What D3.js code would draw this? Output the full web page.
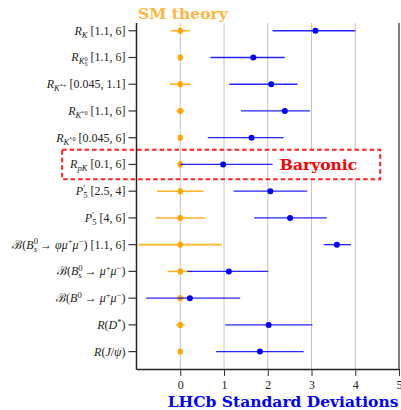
<!DOCTYPE html>
<html>
<head>
<meta charset="utf-8">
<script src="https://cdn.jsdelivr.net/npm/d3@7"></script>
<style>
  body { margin: 0; background: #fff; }
  svg { display: block; }
</style>
</head>
<body>
<div id="chart"></div>
<script>
// measurement labels, top to bottom (simple sub/superscript markup)
const categories = [
    "R_{K} [1.1, 6]",
    "R_{K^{0}_{S}} [1.1, 6]",
    "R_{K^{*+}} [0.045, 1.1]",
    "R_{K^{*0}} [1.1, 6]",
    "R_{K^{*0}} [0.045, 6]",
    "R_{pK} [0.1, 6]",
    "P^{\u2032}_{5} [2.5, 4]",
    "P^{\u2032}_{5} [4, 6]",
    "\u212C(B^{0}_{s} \u2192 \u03C6\u03BC^{+}\u03BC^{\u2212}) [1.1, 6]",
    "\u212C(B^{0}_{s} \u2192 \u03BC^{+}\u03BC^{\u2212})",
    "\u212C(B^{0} \u2192 \u03BC^{+}\u03BC^{\u2212})",
    "R(D^{*})",
    "R(J/\u03C8)"
];

// SM theory: centred on 0 with its uncertainty
const smValues = [0, 0, 0, 0, 0, 0, 0, 0, 0, 0, 0, 0, 0];
const smErr = [0.22, 0.04, 0.24, 0.09, 0.03, 0.03, 0.53, 0.57, 0.95, 0.28, 0.08, 0.1, 0.03];

// LHCb measurement, in standard deviations from SM
const lhcbValues = [3.09, 1.67, 2.08, 2.39, 1.63, 0.98, 2.06, 2.51, 3.58, 1.11, 0.22, 2.02, 1.82];
const lhcbLo = [2.11, 0.69, 1.12, 1.39, 0.63, 0.0, 1.22, 1.69, 3.28, 0.16, -0.78, 1.03, 0.82];
const lhcbHi = [4.0, 2.39, 2.68, 2.97, 2.36, 2.11, 2.9, 3.35, 3.9, 2.01, 1.37, 3.02, 2.82];

const xTicks = [0, 1, 2, 3, 4, 5];
const gridValues = [0, 1, 2, 3, 4];
const baryonicRow = 5;

const width = 401, height = 410;
const margin = {top: 23, right: 2, bottom: 41, left: 136.5};

const svg = d3.select('#chart').append('svg')
    .attr('width', width)
    .attr('height', height);

const x = d3.scaleLinear().domain([-1, 5]).range([margin.left, width - margin.right]);
const y = d3.scaleLinear().domain([-0.29, 12.65]).range([margin.top, height - margin.bottom]);

const serif = '"Liberation Serif", "DejaVu Serif", serif';
const boldSerif = '"DejaVu Serif", "Liberation Serif", serif';
const orange = '#ffa500';
const blue = '#0000ff';

// grid lines
svg.append('g').selectAll('line')
    .data(gridValues)
    .join('line')
    .attr('x1', d => x(d)).attr('x2', d => x(d))
    .attr('y1', y.range()[0]).attr('y2', y.range()[1])
    .attr('stroke', '#c4c4c4')
    .attr('stroke-width', 1);

// baryonic highlight box
const boxL = x(-2.7), boxR = x(4.57);
const boxT = y(baryonicRow - 0.55), boxB = y(baryonicRow + 0.55);
svg.append('rect')
    .attr('x', x(2.15))
    .attr('y', boxT)
    .attr('width', boxR - x(2.15))
    .attr('height', boxB - boxT)
    .attr('fill', '#fff');
svg.append('rect')
    .attr('x', boxL)
    .attr('y', boxT)
    .attr('width', boxR - boxL)
    .attr('height', boxB - boxT)
    .attr('fill', 'none')
    .attr('stroke', '#ff1f1f')
    .attr('stroke-width', 2)
    .attr('stroke-dasharray', '4.5,3');
svg.append('text')
    .attr('x', x(3.16))
    .attr('y', y(baryonicRow) + 6)
    .attr('text-anchor', 'middle')
    .attr('font-family', boldSerif)
    .attr('font-weight', 'bold')
    .attr('font-size', 15.5)
    .attr('fill', '#ff0000')
    .text('Baryonic');

// SM error bars + points
svg.append('g').selectAll('line')
    .data(categories)
    .join('line')
    .attr('x1', (d, i) => x(smValues[i] - smErr[i]))
    .attr('x2', (d, i) => x(smValues[i] + smErr[i]))
    .attr('y1', (d, i) => y(i)).attr('y2', (d, i) => y(i))
    .attr('stroke', orange)
    .attr('stroke-opacity', 0.85)
    .attr('stroke-width', 1.6);
svg.append('g').selectAll('ellipse')
    .data(categories)
    .join('ellipse')
    .attr('cx', (d, i) => x(smValues[i]))
    .attr('cy', (d, i) => y(i))
    .attr('rx', 2.6).attr('ry', 3.2)
    .attr('fill', orange);

// LHCb error bars + points
svg.append('g').selectAll('line')
    .data(categories)
    .join('line')
    .attr('x1', (d, i) => x(lhcbLo[i]))
    .attr('x2', (d, i) => x(lhcbHi[i]))
    .attr('y1', (d, i) => y(i)).attr('y2', (d, i) => y(i))
    .attr('stroke', blue)
    .attr('stroke-opacity', 0.85)
    .attr('stroke-width', 1.3);
svg.append('g').selectAll('circle')
    .data(categories)
    .join('circle')
    .attr('cx', (d, i) => x(lhcbValues[i]))
    .attr('cy', (d, i) => y(i))
    .attr('r', 3)
    .attr('fill', blue);

// spines
svg.append('line')
    .attr('x1', x(-1)).attr('x2', x(-1))
    .attr('y1', y.range()[0]).attr('y2', y.range()[1] + 0.7)
    .attr('stroke', '#222').attr('stroke-width', 1.5);
svg.append('line')
    .attr('x1', x(5)).attr('x2', x(5))
    .attr('y1', y.range()[0]).attr('y2', y.range()[1] + 0.7)
    .attr('stroke', '#555').attr('stroke-width', 1.5);

// x axis
const xAxis = svg.append('g')
    .attr('transform', `translate(0,${y.range()[1]})`)
    .call(d3.axisBottom(x).tickValues(xTicks).tickFormat(d3.format('d'))
        .tickSize(7).tickPadding(4).tickSizeOuter(0));
xAxis.select('.domain').attr('stroke', '#222').attr('stroke-width', 1.5);
xAxis.selectAll('.tick line').attr('stroke', '#333');
xAxis.selectAll('.tick text')
    .attr('font-family', serif)
    .attr('font-size', 12)
    .attr('fill', '#222');

// y axis tick marks
svg.append('g').selectAll('line')
    .data(categories)
    .join('line')
    .attr('x1', x(-1) - 8).attr('x2', x(-1))
    .attr('y1', (d, i) => y(i)).attr('y2', (d, i) => y(i))
    .attr('stroke', '#333').attr('stroke-width', 1.2);

// y labels with a tiny sub/superscript renderer
function parseMath(str, size, off, out, group) {
    let i = 0;
    let prevScript = null;
    while (i < str.length) {
        const c = str[i];
        if (c === '_' || c === '^') {
            let inner, next;
            if (str[i + 1] === '{') {
                let depth = 0, j = i + 1;
                for (; j < str.length; j++) {
                    if (str[j] === '{') depth++;
                    else if (str[j] === '}') { depth--; if (depth === 0) break; }
                }
                inner = str.slice(i + 2, j);
                next = j + 1;
            } else {
                inner = str[i + 1];
                next = i + 2;
            }
            const g = {stackOn: prevScript && prevScript.kind !== c ? prevScript : null, kind: c, pieces: []};
            const sub = c === '_';
            parseMath(inner, size * 0.72, off + (sub ? 0.24 * size : -0.36 * size), out, g);
            prevScript = g.stackOn ? null : g;
            i = next;
            continue;
        }
        prevScript = null;
        const italic = /[A-Za-z\u03C6\u03BC\u03C8]/.test(c);
        const last = out[out.length - 1];
        if (last && last.italic === italic && last.size === size && last.off === off && last.group === group) {
            last.text += c;
        } else {
            const p = {text: c, italic, size, off, group};
            out.push(p);
            if (group) group.pieces.push(p);
        }
        i++;
    }
    return out;
}

categories.forEach((label, i) => {
    const t = svg.append('text')
        .attr('x', x(-1) - 11)
        .attr('y', y(i) + 4)
        .attr('text-anchor', 'end')
        .attr('font-family', serif)
        .attr('fill', '#222');
    const pieces = parseMath(label, 12, 0, [], null);
    let cur = 0;
    pieces.forEach(p => {
        p.node = t.append('tspan')
            .attr('font-size', p.size)
            .attr('font-style', p.italic ? 'italic' : 'normal')
            .attr('dy', p.off - cur)
            .text(p.text);
        cur = p.off;
    });
    // stack subscripts under the preceding superscript
    pieces.forEach(p => {
        if (p.group && p.group.stackOn && p.group.pieces[0] === p) {
            const w = d3.sum(p.group.stackOn.pieces, q => q.node.node().getComputedTextLength());
            p.node.attr('dx', -w);
        }
    });
});

// titles
svg.append('text')
    .attr('x', x(0.06))
    .attr('y', 19)
    .attr('text-anchor', 'middle')
    .attr('font-family', boldSerif)
    .attr('font-weight', 'bold')
    .attr('font-size', 15.5)
    .attr('fill', '#ffb63d')
    .text('SM theory');

svg.append('text')
    .attr('x', x(2.35))
    .attr('y', 407)
    .attr('text-anchor', 'middle')
    .attr('font-family', boldSerif)
    .attr('font-weight', 'bold')
    .attr('font-size', 15.5)
    .attr('fill', blue)
    .text('LHCb Standard Deviations');
</script>
</body>
</html>
